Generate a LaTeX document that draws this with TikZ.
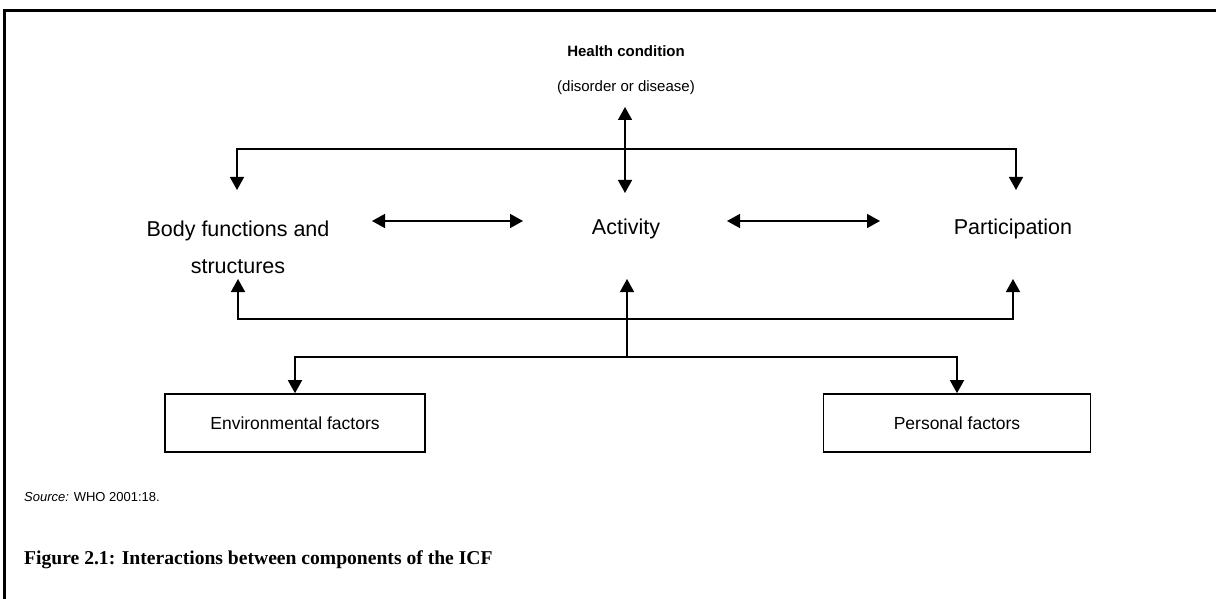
\documentclass[tikz,border=0pt]{standalone}
\usepackage{fontspec}
\setmainfont{Liberation Sans}
\newfontfamily\capfont{Liberation Serif}
\usetikzlibrary{arrows.meta}
\begin{document}
\begin{tikzpicture}[x=1pt,y=-1pt,
  lbl/.style={font=\fontsize{21.5}{37}\selectfont, inner sep=0pt, align=center},
  toplbl/.style={font=\fontsize{15}{18}\selectfont, inner sep=0pt},
  factor/.style={draw, line width=1.6pt, minimum height=58pt, inner sep=0pt, font=\fontsize{17.5}{21}\selectfont},
  conn/.style={line width=1.5pt, >={Triangle[length=13pt,width=14pt]}},
  frame/.style={line width=3pt}]
\useasboundingbox (0,0) rectangle (1216,599);
\draw[frame] (4,599) -- (4,11) -- (1216,11);

\node[toplbl, font=\bfseries\fontsize{15}{18}\selectfont] (hc) at (626,51) {Health condition};
\node[toplbl] (dd) at (626,88) {(disorder or disease)};
\node[lbl] (body) at (238,247.5) {Body functions and\\structures};
\node[lbl] (act) at (626,229) {Activity};
\node[lbl] (part) at (1013,229) {Participation};
\node[factor, minimum width=260pt] (env) at (295,423) {Environmental factors};
\node[factor, minimum width=267pt] (pers) at (957,423) {Personal factors};
\node[anchor=west, inner sep=0pt, font=\fontsize{13}{16}\selectfont] (src) at (24,497) {\textit{Source:} WHO 2001:18.};
\node[anchor=west, inner sep=0pt, font=\capfont\bfseries\fontsize{19.6}{23}\selectfont] (cap) at (24,560) {Figure 2.1: Interactions between components of the ICF};

% connector end points
\coordinate (hcA) at (625,107);
\coordinate (hcB) at (625,193);
\coordinate (bT) at (237,190);
\coordinate (pT) at (1016,190);
\coordinate (j1) at (625,149);
\coordinate (bB) at (238,279);
\coordinate (pB) at (1013,279);
\coordinate (aB) at (627,279);
\coordinate (j2) at (627,319);
\coordinate (j3) at (627,357);
\coordinate (bR) at (372,221);
\coordinate (aL) at (523,221);
\coordinate (aR) at (727,221);
\coordinate (pL) at (880,221);

\draw[conn,<->] (hcA) -- (hcB);
\draw[conn,<->] (bT) |- (j1) -| (pT);
\draw[conn,<->] (bB) |- (j2) -| (pB);
\draw[conn,->] (j3) -- (aB);
\draw[conn,<->] (env.north) |- (j3) -| (pers.north);
\draw[conn,<->] (bR) -- (aL);
\draw[conn,<->] (aR) -- (pL);
\end{tikzpicture}
\end{document}
